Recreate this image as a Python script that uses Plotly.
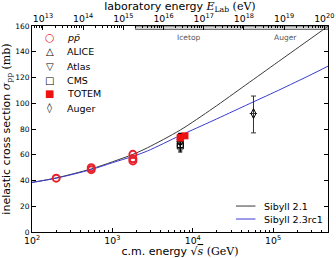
import math
import plotly.graph_objects as go

# ---------------- data ----------------
# model curves (sqrt(s) in GeV, sigma_inel in mb)
sqrts_sib21 = [100, 200, 546, 1000, 1800, 2748, 7000, 17860, 45600, 116100, 296500, 482000]
sig_sib21 = [38.5, 42.0, 49.0, 54.5, 60.3, 65.5, 79.2, 96.1, 114.2, 132.3, 150.4, 159.8]
sqrts_sib23 = [100, 200, 546, 1000, 1800, 2748, 7000, 17860, 45600, 116100, 296500, 482000]
sig_sib23 = [38.5, 41.8, 48.5, 53.8, 58.8, 63.0, 75.0, 86.5, 98.3, 110.0, 122.2, 128.8]

# measurements
ppbar_E = [200, 546, 546, 1800, 1800, 1800]
ppbar_sig = [41.8, 48.4, 49.9, 60.3, 56.8, 55.2]
alice_E = [7000]
alice_sig = [73.2]
alice_up = [3.3]
alice_dn = [5.3]
atlas_E = [7000]
atlas_sig = [69.4]
atlas_err = [7.3]
cms_E = [7000, 7000]
cms_sig = [68.0, 66.8]
cms_err = [5.0, 1.5]
totem_E = [7000, 7000, 8000]
totem_sig = [73.5, 72.9, 74.7]
auger_E = [57000]
auger_Eerr = [6000]
auger_sig = [92.0]
auger_up = [13.6]
auger_dn = [15.0]

# cosmic-ray experiment ranges in lab energy (eV)
icetop_range = [2.0e15, 0.85e18]
auger_range = [0.95e18, 1.25e20]

FONT = "DejaVu Sans"

fig = go.Figure()

fig.add_trace(go.Scatter(x=sqrts_sib21, y=sig_sib21, mode="lines", name="Sibyll 2.1",
                         line=dict(color="#3a3a3a", width=1, shape="spline", smoothing=0.8), showlegend=False))
fig.add_trace(go.Scatter(x=sqrts_sib23, y=sig_sib23, mode="lines", name="Sibyll 2.3rc1",
                         line=dict(color="#3a3ad0", width=1, shape="spline", smoothing=0.8), showlegend=False))

fig.add_trace(go.Scatter(x=ppbar_E, y=ppbar_sig, mode="markers", name="pp̄", showlegend=False,
                         marker=dict(symbol="circle-open", size=7, color="#e8202a", line=dict(width=2, color="#e8202a"))))
fig.add_trace(go.Scatter(x=cms_E, y=cms_sig, mode="markers", name="CMS", showlegend=False,
                         error_y=dict(type="data", array=cms_err, color="black", thickness=1, width=2),
                         marker=dict(symbol="square-open", size=6, color="black", line=dict(width=1))))
fig.add_trace(go.Scatter(x=atlas_E, y=atlas_sig, mode="markers", name="Atlas", showlegend=False,
                         error_y=dict(type="data", array=atlas_err, color="black", thickness=1, width=2),
                         marker=dict(symbol="triangle-down-open", size=6, color="black", line=dict(width=1))))
fig.add_trace(go.Scatter(x=alice_E, y=alice_sig, mode="markers", name="ALICE", showlegend=False,
                         error_y=dict(type="data", symmetric=False, array=alice_up, arrayminus=alice_dn,
                                      color="black", thickness=1, width=2),
                         marker=dict(symbol="triangle-up-open", size=6, color="black", line=dict(width=1))))
fig.add_trace(go.Scatter(x=totem_E, y=totem_sig, mode="markers", name="TOTEM", showlegend=False,
                         marker=dict(symbol="square", size=7, color="#ee1111", line=dict(width=0))))
fig.add_trace(go.Scatter(x=auger_E, y=auger_sig, mode="markers", name="Auger", showlegend=False,
                         error_y=dict(type="data", symmetric=False, array=auger_up, arrayminus=auger_dn,
                                      color="#333", thickness=1, width=2.5),
                         error_x=dict(type="data", array=auger_Eerr, color="#333", thickness=1, width=0),
                         marker=dict(symbol="diamond-tall-open", size=7, color="black", line=dict(width=1))))

# experiment bands at the top axis
for rng in (icetop_range, auger_range):
    fig.add_shape(type="rect", xref="x2", yref="paper", x0=rng[0], x1=rng[1], y0=0.983, y1=1.0,
                  fillcolor="#cfcfcf", line=dict(color="#555555", width=0.8), layer="below")

annots = []
for label, rng in (("Icetop", icetop_range), ("Auger", auger_range)):
    c = (math.log10(rng[0]) + math.log10(rng[1])) / 2
    annots.append(dict(x=c, y=0.975, xref="x2", yref="paper", text=label, showarrow=False,
                       yanchor="top", font=dict(family=FONT, size=7.5, color="#555555")))

# manual legend (marker glyphs)
legend_rows = [
    ("○", "#e8202a", "<i>p</i><i>p̄</i>", 0.942),
    ("△", "black", "ALICE", 0.874),
    ("▽", "black", "Atlas", 0.803),
    ("□", "black", "CMS", 0.735),
    ("■", "#ee1111", "TOTEM", 0.670),
    ("◊", "black", "Auger", 0.600),
]
for glyph, col, lab, yy in legend_rows:
    annots.append(dict(x=0.0596, y=yy, xref="paper", yref="paper", text=glyph, showarrow=False,
                       xanchor="center", yanchor="middle",
                       font=dict(family=FONT, size=10 if glyph != "○" else 11, color=col)))
    annots.append(dict(x=0.113, y=yy, xref="paper", yref="paper", text=lab, showarrow=False,
                       xanchor="left", yanchor="middle", font=dict(family=FONT, size=9.5, color="black")))

# line legend
line_rows = [("Sibyll 2.1", "#3a3a3a", 0.126), ("Sibyll 2.3rc1", "#3a3ad0", 0.063)]
for lab, col, yy in line_rows:
    fig.add_shape(type="line", xref="paper", yref="paper", x0=0.689, x1=0.755, y0=yy, y1=yy,
                  line=dict(color=col, width=1))
    annots.append(dict(x=0.778, y=yy, xref="paper", yref="paper", text=lab, showarrow=False,
                       xanchor="left", yanchor="middle", font=dict(family=FONT, size=9.5, color="black")))

L0, L1 = 2.0, 5.683
fig.update_layout(
    width=336, height=258,
    margin=dict(l=32, r=2, t=26, b=26),
    paper_bgcolor="white", plot_bgcolor="white",
    font=dict(family=FONT, size=8, color="black"),
    showlegend=False,
    annotations=annots,
    xaxis=dict(type="log", range=[L0, L1], dtick=1, exponentformat="power",
               ticks="inside", ticklen=4, tickwidth=1, tickcolor="black",
               minor=dict(ticks="inside", ticklen=2, tickcolor="black", showgrid=False),
               showline=True, linecolor="black", linewidth=1, mirror=True, showgrid=False, zeroline=False,
               tickfont=dict(size=7.5), ticklabeloverflow="allow",
               title=dict(text="c.m. energy <span style='font-family:DejaVu Serif'>√<span style='text-decoration:overline'><i>s</i></span> (GeV)</span>",
                          font=dict(size=11), standoff=2)),
    xaxis2=dict(type="log", range=[2 * L0 + 8.727, 2 * L1 + 8.727], dtick=1, exponentformat="power",
                overlaying="x", side="top", anchor="y",
                ticks="inside", ticklen=4, tickwidth=1, tickcolor="black",
                minor=dict(ticks="inside", ticklen=2, tickcolor="black", showgrid=False),
                showline=True, linecolor="black", linewidth=1, showgrid=False, zeroline=False,
                tickfont=dict(size=7.5), ticklabeloverflow="allow",
                title=dict(text="laboratory energy <span style='font-family:DejaVu Serif'><i>E</i><sub>Lab</sub> (eV)</span>",
                           font=dict(size=11), standoff=1)),
    yaxis=dict(range=[0, 160], dtick=20, ticks="inside", ticklen=4, tickwidth=1, tickcolor="black",
               showline=True, linecolor="black", linewidth=1, mirror="ticks", showgrid=False, zeroline=False,
               tickfont=dict(size=7.5),
               title=dict(text="inelastic cross section <span style='font-family:DejaVu Serif'><i>σ</i><sub>pp</sub> (mb)</span>",
                          font=dict(size=11), standoff=4)),
)

fig.write_html("out.html")
